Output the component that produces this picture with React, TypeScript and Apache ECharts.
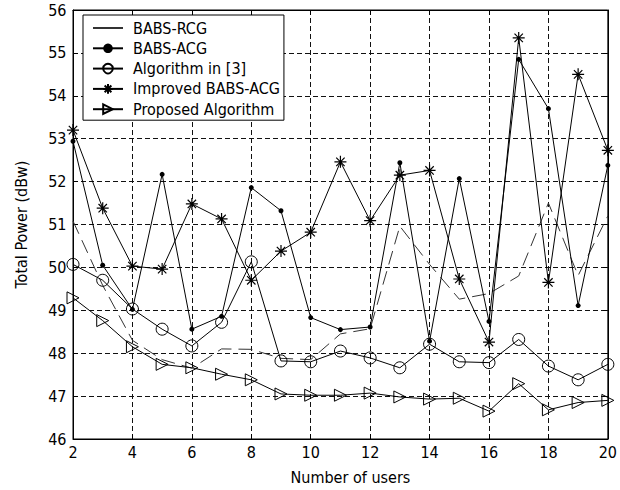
import React, { useEffect, useRef } from "react";
import * as echarts from "echarts";

const users = [2, 3, 4, 5, 6, 7, 8, 9, 10, 11, 12, 13, 14, 15, 16, 17, 18, 19, 20];
const babsRcg = [51.08, 49.58, 48.3, 47.85, 47.65, 48.1, 48.09, 47.88, 47.85, 48.45, 48.57, 50.96, 50.07, 49.26, 49.39, 49.8, 51.5, 49.81, 51.2];
const babsAcg = [52.94, 50.05, 49.02, 52.17, 48.56, 48.86, 51.86, 51.32, 48.83, 48.55, 48.61, 52.44, 48.28, 52.07, 48.74, 54.85, 53.7, 49.11, 52.38];
const algorithm3 = [50.07, 49.7, 49.03, 48.56, 48.17, 48.72, 50.13, 47.82, 47.8, 48.05, 47.89, 47.66, 48.21, 47.8, 47.78, 48.32, 47.7, 47.38, 47.74];
const improvedAcg = [53.2, 51.38, 50.03, 49.96, 51.48, 51.13, 49.7, 50.38, 50.82, 52.46, 51.09, 52.15, 52.26, 49.73, 48.26, 55.35, 49.65, 54.5, 52.73];
const proposed = [49.29, 48.76, 48.15, 47.74, 47.66, 47.51, 47.38, 47.05, 47.02, 47.02, 47.07, 46.98, 46.93, 46.95, 46.65, 47.29, 46.68, 46.85, 46.9];

const seriesNames = ["BABS-RCG", "BABS-ACG", "Algorithm in [3]", "Improved BABS-ACG", "Proposed Algorithm"];

const FONT = "'Liberation Sans Narrow', 'DejaVu Sans Condensed', 'Liberation Sans', Arial, sans-serif";
const STAR = "path://M6,0 L6,12 M0,6 L12,6 M1.8,1.8 L10.2,10.2 M1.8,10.2 L10.2,1.8";
const TRI = "path://M0,0 L12,6 L0,12 Z";

const pairs = (vals: number[]) => users.map((u, i) => [u, vals[i]]);

export default function App() {
  const ref = useRef<HTMLDivElement>(null);
  useEffect(() => {
    if (!ref.current) return;
    const chart = echarts.init(ref.current, null, { renderer: "svg" });
    const axisCommon = {
      type: "value" as const,
      axisLine: { show: true, lineStyle: { color: "#000", width: 1 } },
      axisTick: { show: true, inside: true, length: 5, lineStyle: { color: "#000" } },
    };
    const base = {
      type: "line",
      lineStyle: { color: "#000", width: 1 },
      emphasis: { disabled: true },
      z: 2,
    };
    chart.setOption({
      animation: false,
      textStyle: { fontFamily: FONT },
      grid: { left: 73, right: 6, top: 10, bottom: 47, show: true, borderColor: "#000", borderWidth: 1, backgroundColor: "#fff" },
      legend: {
        orient: "vertical",
        left: 83,
        top: 15,
        padding: [4, 4, 2, 9],
        itemWidth: 30,
        itemHeight: 12,
        itemGap: 2.3,
        backgroundColor: "#fff",
        borderColor: "#000",
        borderWidth: 1,
        borderRadius: 0,
        textStyle: { fontFamily: FONT, fontSize: 16, color: "#000", lineHeight: 18, padding: [0, 0, 0, 5] },
        data: [
          { name: seriesNames[0], lineStyle: { type: "solid" }, itemStyle: { color: "transparent", borderWidth: 0, opacity: 0 } },
          { name: seriesNames[1] },
          { name: seriesNames[2] },
          { name: seriesNames[3] },
          { name: seriesNames[4] },
        ],
      },
      xAxis: [
        {
          ...axisCommon,
          min: 2,
          max: 20,
          interval: 2,
          position: "bottom",
          name: "Number of users",
          nameLocation: "middle",
          nameGap: 30,
          nameTextStyle: { fontFamily: FONT, fontSize: 16, color: "#000", padding: [0, 0, 0, 20] },
          axisLabel: { margin: 5, fontFamily: FONT, fontSize: 16, color: "#000" },
          splitLine: { show: true, lineStyle: { color: "#111", type: [5, 3], width: 1 } },
        },
        {
          ...axisCommon,
          min: 2,
          max: 20,
          interval: 2,
          position: "top",
          axisLabel: { show: false },
          splitLine: { show: false },
        },
      ],
      yAxis: [
        {
          ...axisCommon,
          min: 46,
          max: 56,
          interval: 1,
          position: "left",
          name: "Total Power (dBw)",
          nameLocation: "middle",
          nameGap: 44,
          nameTextStyle: { fontFamily: FONT, fontSize: 16, color: "#000" },
          axisLabel: { margin: 6.5, fontFamily: FONT, fontSize: 16, color: "#000" },
          splitLine: { show: true, lineStyle: { color: "#111", type: [5, 3], width: 1 } },
        },
        {
          ...axisCommon,
          min: 46,
          max: 56,
          interval: 1,
          position: "right",
          axisLabel: { show: false },
          splitLine: { show: false },
        },
      ],
      series: [
        {
          ...base,
          name: seriesNames[0],
          data: pairs(babsRcg),
          symbol: "none",
          lineStyle: { color: "#333", width: 1, type: [14, 7] },
          itemStyle: { color: "#000" },
        },
        {
          ...base,
          name: seriesNames[1],
          data: pairs(babsAcg),
          symbol: "circle",
          symbolSize: 5,
          itemStyle: { color: "#000" },
        },
        {
          ...base,
          name: seriesNames[2],
          data: pairs(algorithm3),
          symbol: "circle",
          symbolSize: 12,
          itemStyle: { color: "transparent", borderColor: "#000", borderWidth: 1 },
        },
        {
          ...base,
          name: seriesNames[3],
          data: pairs(improvedAcg),
          symbol: STAR,
          symbolSize: 12,
          itemStyle: { color: "#000", borderColor: "#000", borderWidth: 1.2 },
        },
        {
          ...base,
          name: seriesNames[4],
          data: pairs(proposed),
          symbol: TRI,
          symbolSize: 12,
          itemStyle: { color: "transparent", borderColor: "#000", borderWidth: 1 },
        },
      ],
    });
    return () => chart.dispose();
  }, []);
  return <div ref={ref} style={{ width: 620, height: 490, position: "absolute", left: 0, top: 0, background: "#fff" }} />;
}
